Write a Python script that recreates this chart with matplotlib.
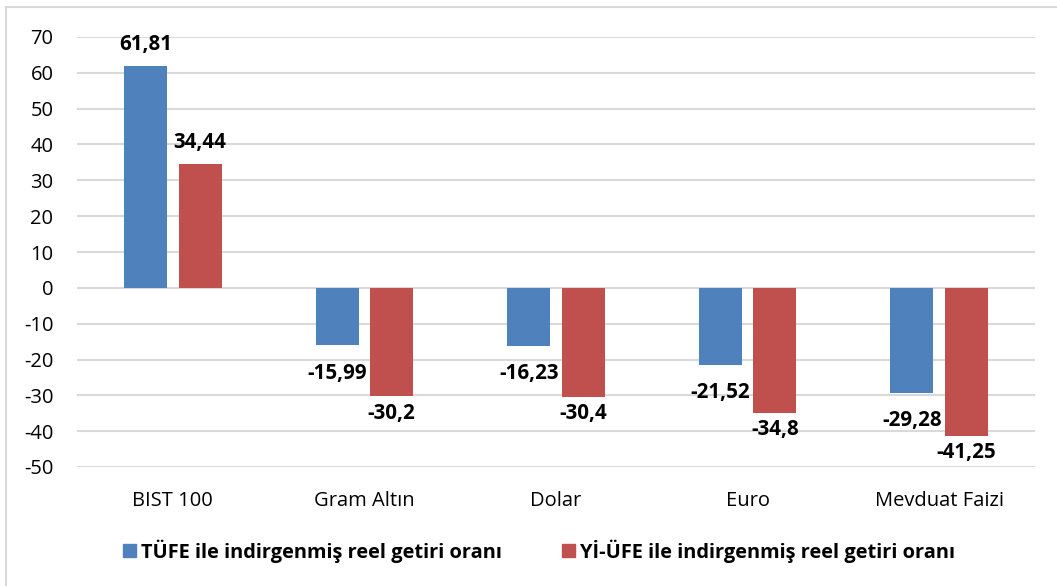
import matplotlib
matplotlib.use("Agg")
import matplotlib.pyplot as plt
from matplotlib.patches import Rectangle
import numpy as np

categories = ["BIST 100", "Gram Altın", "Dolar", "Euro", "Mevduat Faizi"]
tufe = [61.81, -15.99, -16.23, -21.52, -29.28]
yiufe = [34.44, -30.2, -30.4, -34.8, -41.25]
tufe_labels = ["61,81", "-15,99", "-16,23", "-21,52", "-29,28"]
yiufe_labels = ["34,44", "-30,2", "-30,4", "-34,8", "-41,25"]
series_names = ["TÜFE ile indirgenmiş reel getiri oranı",
                "Yİ-ÜFE ile indirgenmiş reel getiri oranı"]
yticks = list(range(-50, 71, 10))

plt.rcParams['font.family'] = ['Open Sans', 'DejaVu Sans']

W, H = 1057, 586
fig = plt.figure(figsize=(W / 100, H / 100), dpi=100)
ax = fig.add_axes([77 / W, 1 - 467 / H, (1035 - 77) / W, (467 - 37) / H])

blue = "#4F81BD"
red = "#C0504D"
x = np.arange(len(categories))
bw = 0.224
off = 0.1425
ax.bar(x - off, tufe, bw, color=blue, zorder=3)
ax.bar(x + off, yiufe, bw, color=red, zorder=3)

ax.set_xlim(-0.5, len(categories) - 0.5)
ax.set_ylim(-50, 70)
ax.set_yticks(yticks)
ax.set_yticklabels([str(t) for t in yticks])
ax.set_xticks(x)
ax.set_xticklabels(categories)
ax.tick_params(axis='both', length=0, labelsize=14.5, colors='black')
ax.tick_params(axis='y', pad=17)
ax.tick_params(axis='x', pad=17)
ax.yaxis.grid(True, color="#D9D9D9", linewidth=1.5, zorder=0)
ax.set_axisbelow(True)
for s in ax.spines.values():
    s.set_visible(False)

px = 0.72
for vals, labs, xs, negoff in ((tufe, tufe_labels, x - off, 28), (yiufe, yiufe_labels, x + off, 17)):
    for v, lab, xi in zip(vals, labs, xs):
        dy = 21.5 * px if v >= 0 else -negoff * px
        ax.annotate(lab, (xi, v), xytext=(0, dy), textcoords='offset points',
                    ha='center', va='center', fontsize=14.8, fontweight='bold',
                    annotation_clip=False)

# legend
fig.patches.append(Rectangle((123 / W, 1 - 557 / H), 13 / W, 13 / H,
                             transform=fig.transFigure, color=blue))
fig.text(141 / W, 1 - 551 / H, series_names[0], fontsize=14.4, fontweight='bold',
         va='center', ha='left')
fig.patches.append(Rectangle((562 / W, 1 - 557 / H), 13 / W, 13 / H,
                             transform=fig.transFigure, color=red))
fig.text(580 / W, 1 - 551 / H, series_names[1], fontsize=14.4, fontweight='bold',
         va='center', ha='left')

# outer frame (left and top edges visible)
fig.add_artist(plt.Line2D([5.5 / W, 5.5 / W], [0, 1 - 7 / H], transform=fig.transFigure,
                          color="#D9D9D9", linewidth=1.5))
fig.add_artist(plt.Line2D([5.5 / W, 1], [1 - 7 / H, 1 - 7 / H], transform=fig.transFigure,
                          color="#D9D9D9", linewidth=1.5))

fig.savefig("out.png", dpi=100, facecolor="white")
